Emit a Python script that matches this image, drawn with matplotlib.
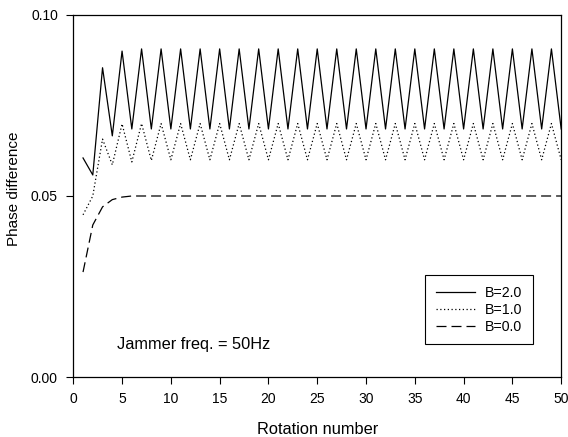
import matplotlib.pyplot as plt

plt.rcParams['font.family'] = ['Liberation Sans', 'DejaVu Sans']

# ===== ДАНІ =====
rotation = list(range(1, 51))

b20 = [0.0605, 0.0558, 0.0854, 0.0666, 0.0900, 0.0685, 0.0906, 0.0685, 0.0906, 0.0685,
       0.0906, 0.0685, 0.0906, 0.0685, 0.0906, 0.0685, 0.0906, 0.0685, 0.0906, 0.0685,
       0.0906, 0.0685, 0.0906, 0.0685, 0.0906, 0.0685, 0.0906, 0.0685, 0.0906, 0.0685,
       0.0906, 0.0685, 0.0906, 0.0685, 0.0906, 0.0685, 0.0906, 0.0685, 0.0906, 0.0685,
       0.0906, 0.0685, 0.0906, 0.0685, 0.0906, 0.0685, 0.0906, 0.0685, 0.0906, 0.0685]

b10 = [0.0448, 0.0500, 0.0657, 0.0586, 0.0699, 0.0594, 0.0700, 0.0598, 0.0700, 0.0600,
       0.0700, 0.0600, 0.0700, 0.0600, 0.0700, 0.0600, 0.0700, 0.0600, 0.0700, 0.0600,
       0.0700, 0.0600, 0.0700, 0.0600, 0.0700, 0.0600, 0.0700, 0.0600, 0.0700, 0.0600,
       0.0700, 0.0600, 0.0700, 0.0600, 0.0700, 0.0600, 0.0700, 0.0600, 0.0700, 0.0600,
       0.0700, 0.0600, 0.0700, 0.0600, 0.0700, 0.0600, 0.0700, 0.0600, 0.0700, 0.0600]

b00 = [0.0290, 0.0420, 0.0470, 0.0490, 0.0497, 0.0500, 0.0500, 0.0500, 0.0500, 0.0500,
       0.0500, 0.0500, 0.0500, 0.0500, 0.0500, 0.0500, 0.0500, 0.0500, 0.0500, 0.0500,
       0.0500, 0.0500, 0.0500, 0.0500, 0.0500, 0.0500, 0.0500, 0.0500, 0.0500, 0.0500,
       0.0500, 0.0500, 0.0500, 0.0500, 0.0500, 0.0500, 0.0500, 0.0500, 0.0500, 0.0500,
       0.0500, 0.0500, 0.0500, 0.0500, 0.0500, 0.0500, 0.0500, 0.0500, 0.0500, 0.0500]

x_ticks = [0, 5, 10, 15, 20, 25, 30, 35, 40, 45, 50]
y_ticks = [0.00, 0.05, 0.10]

# ===== ГРАФІК =====
fig = plt.figure(figsize=(5.68, 4.37), dpi=100)
ax = fig.add_axes([0.129, 0.137, 0.859, 0.829])

ax.plot(rotation, b20, color='black', lw=0.9, ls='-', label='B=2.0')
ax.plot(rotation, b10, color='black', lw=0.9, ls=(0, (1, 2)), label='B=1.0')
ax.plot(rotation, b00, color='black', lw=0.9, ls=(0, (8, 4)), label='B=0.0')

ax.set_xlim(0, 50)
ax.set_ylim(0, 0.10)
ax.set_xticks(x_ticks)
ax.set_yticks(y_ticks)
ax.set_yticklabels(['0.00', '0.05', '0.10'])
ax.tick_params(direction='out', length=5, width=0.8, labelsize=10, pad=6)

for s in ax.spines.values():
    s.set_linewidth(0.9)

ax.set_xlabel('Rotation number', fontsize=11.8, labelpad=11)
ax.set_ylabel('Phase difference', fontsize=11)
ax.yaxis.set_label_coords(-0.108, 0.52)

ax.text(4.5, 0.009, 'Jammer freq. = 50Hz', fontsize=11.8, va='center', ha='left')

leg = ax.legend(loc='lower right', bbox_to_anchor=(0.943, 0.091), fontsize=10.2,
                frameon=True, fancybox=False, edgecolor='black', framealpha=1,
                handlelength=2.8, handletextpad=0.7, borderpad=0.75, labelspacing=0.2,
                borderaxespad=0)
leg.get_frame().set_linewidth(0.8)

plt.savefig('out.png', dpi=100)
